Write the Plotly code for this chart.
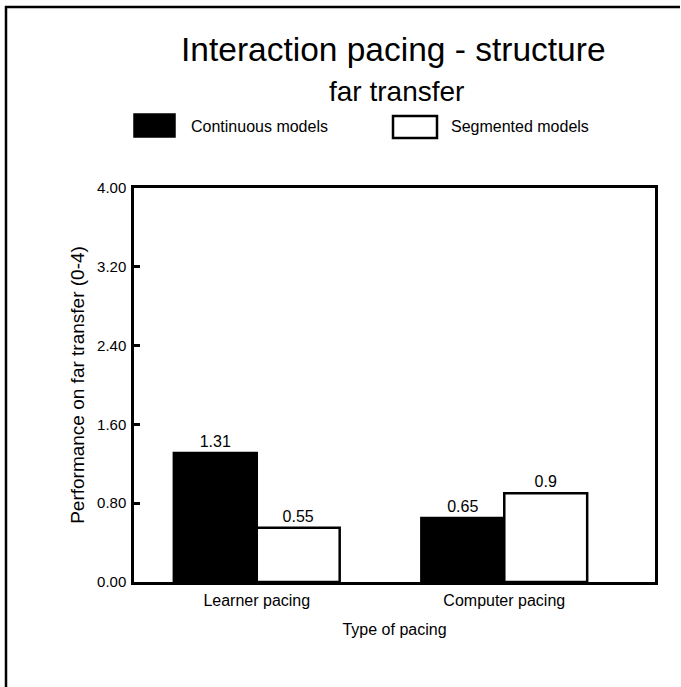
import plotly.graph_objects as go

categories = ["Learner pacing", "Computer pacing"]
series_names = ["Continuous models", "Segmented models"]
continuous_values = [1.31, 0.65]
segmented_values = [0.55, 0.9]
y_ticks = [0.0, 0.8, 1.6, 2.4, 3.2, 4.0]

FONT = "Liberation Sans"
W, H = 681, 687
ML, MR, MT, MB = 134, 26, 188, 105
PW = W - ML - MR
PH = H - MT - MB


def px(x):
    return (x - ML) / PW


def py(y):
    return (H - MB - y) / PH


fig = go.Figure()
for vals, name, col in [(continuous_values, series_names[0], "black"),
                        (segmented_values, series_names[1], "white")]:
    fig.add_trace(go.Bar(
        x=categories, y=vals, name=name,
        marker=dict(color=col, line=dict(color="black", width=2.5)),
        text=[f"{v:g}" for v in vals], textposition="outside",
        textfont=dict(family=FONT, size=16, color="black"),
        cliponaxis=False, showlegend=False,
    ))

shapes = [
    # outer frame (left and top edges visible in the crop)
    dict(type="line", xref="paper", yref="paper",
         x0=px(6), x1=px(6), y0=py(H), y1=py(6),
         line=dict(color="black", width=2.5)),
    dict(type="line", xref="paper", yref="paper",
         x0=px(5), x1=px(W - 1), y0=py(7), y1=py(7),
         line=dict(color="black", width=2.5)),
    # legend swatches
    dict(type="rect", xref="paper", yref="paper",
         x0=px(134), x1=px(175), y0=py(137), y1=py(114),
         line=dict(color="black", width=1.5), fillcolor="black"),
    dict(type="rect", xref="paper", yref="paper",
         x0=px(393), x1=px(437), y0=py(138), y1=py(116),
         line=dict(color="black", width=2.5), fillcolor="white"),
]

annotations = [
    dict(text="Interaction pacing - structure", xref="paper", yref="paper",
         x=px(393), y=py(50), showarrow=False, xanchor="center", yanchor="middle",
         font=dict(family=FONT, size=33.5, color="black")),
    dict(text="far transfer", xref="paper", yref="paper",
         x=px(396), y=py(92), showarrow=False, xanchor="center", yanchor="middle",
         font=dict(family=FONT, size=28, color="black")),
    dict(text=series_names[0], xref="paper", yref="paper",
         x=px(189), y=py(127), showarrow=False, xanchor="left", yanchor="middle",
         font=dict(family=FONT, size=16, color="black")),
    dict(text=series_names[1], xref="paper", yref="paper",
         x=px(449), y=py(127), showarrow=False, xanchor="left", yanchor="middle",
         font=dict(family=FONT, size=16, color="black")),
]

fig.update_layout(
    width=W, height=H,
    margin=dict(l=ML, r=MR, t=MT, b=MB, pad=0),
    paper_bgcolor="white", plot_bgcolor="white",
    barmode="group", bargap=0.33, bargroupgap=0,
    shapes=shapes, annotations=annotations,
    font=dict(family=FONT, color="black"),
)
fig.update_xaxes(
    range=[-0.496, 1.609], showgrid=False, zeroline=False,
    showline=True, linecolor="black", linewidth=2.5, mirror=True,
    ticks="", tickfont=dict(family=FONT, size=16, color="black"),
    ticklabelstandoff=2,
    title=dict(text="Type of pacing", font=dict(family=FONT, size=16, color="black"), standoff=16),
)
fig.update_yaxes(
    range=[0, 4], tickvals=y_ticks, tickformat=".2f", showgrid=False, zeroline=False,
    showline=True, linecolor="black", linewidth=2.5, mirror=True,
    ticks="inside", ticklen=6, tickwidth=2.5, tickcolor="black",
    tickfont=dict(family=FONT, size=15, color="black"),
    ticklabelstandoff=2,
    title=dict(text="Performance on far transfer (0-4)", font=dict(family=FONT, size=19, color="black"), standoff=8),
)

fig.write_html(
    "out.html", config={"displayModeBar": False},
    post_script="document.body.style.margin='0';document.body.style.overflow='hidden';"
                "document.documentElement.style.overflow='hidden';",
)
